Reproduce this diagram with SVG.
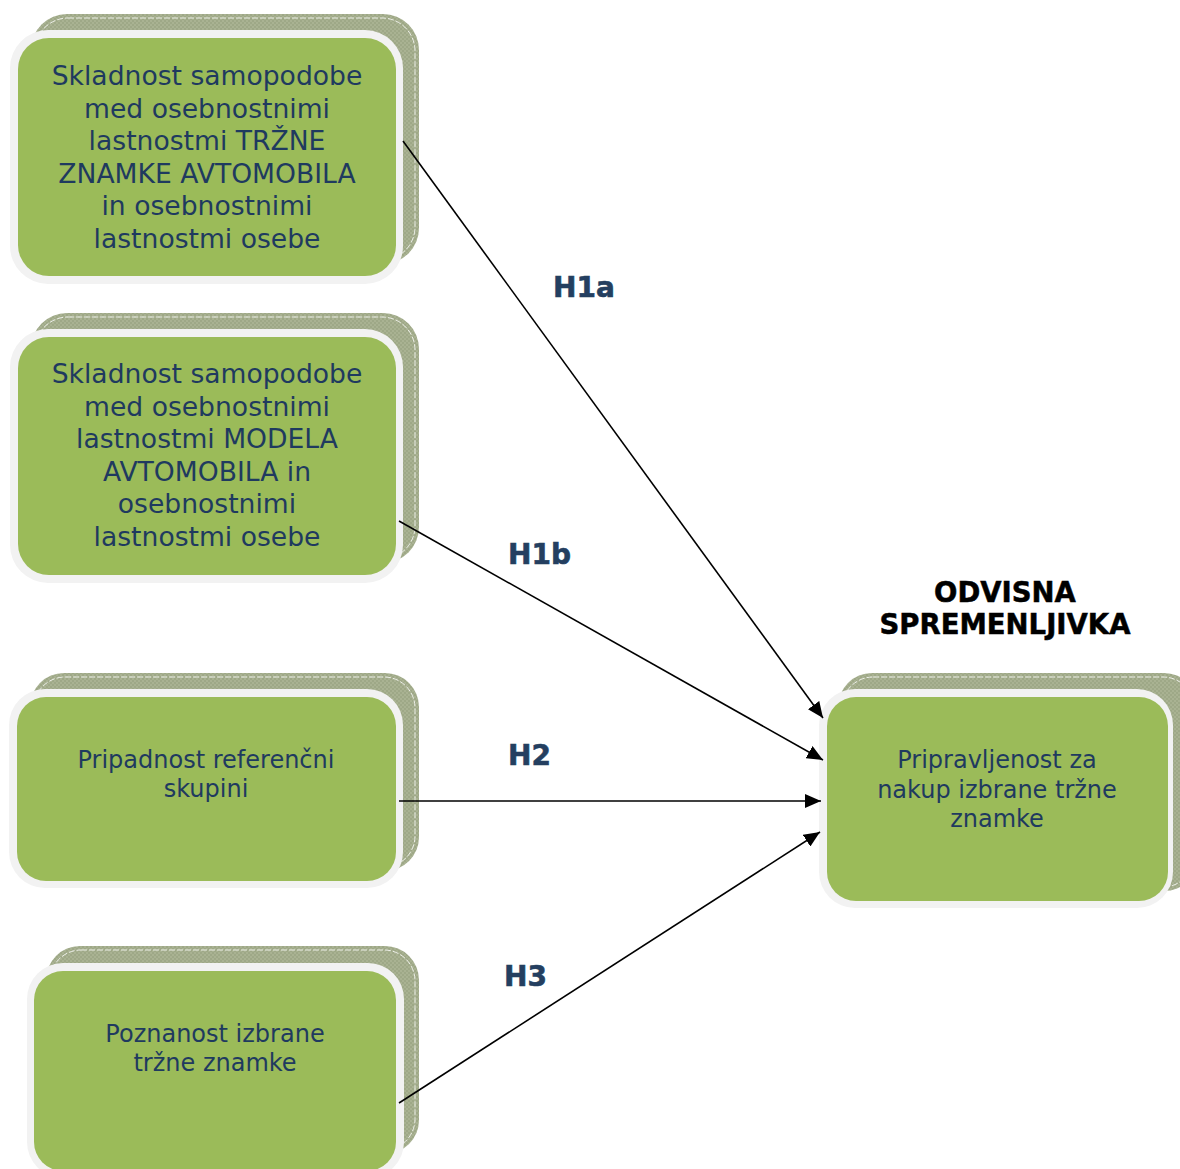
<svg xmlns="http://www.w3.org/2000/svg" width="1180" height="1169" viewBox="0 0 1180 1169">
<defs>
<pattern id="hatch" width="4" height="4" patternUnits="userSpaceOnUse">
<rect width="4" height="4" fill="#a9b292"/>
<rect width="2" height="2" fill="#9ea887"/>
<rect x="2" y="2" width="2" height="2" fill="#9ea887"/>
</pattern>
<marker id="arr" markerWidth="16" markerHeight="14" refX="16" refY="7" orient="auto" markerUnits="userSpaceOnUse">
<path d="M0,0 L16,7 L0,14 Z" fill="#000"/>
</marker>
<style>
.back{fill:url(#hatch);}
.backline{fill:none;stroke:#ffffff;stroke-width:1;stroke-dasharray:6 2;opacity:0.8;}
.outer{fill:#f2f2f2;}
.inner{fill:#9bbb59;}
.t{font-family:"DejaVu Sans",Verdana,sans-serif;fill:#1f3a5f;text-anchor:middle;}
.t1{font-size:26.6px;}
.t2{font-size:24px;}
.lbl{font-family:"DejaVu Sans",Verdana,sans-serif;font-weight:bold;font-size:28px;fill:#243f60;stroke:#243f60;stroke-width:0.6;}
.hdr{font-family:"DejaVu Sans",Verdana,sans-serif;font-weight:bold;font-size:27.5px;fill:#000;text-anchor:middle;stroke:#000;stroke-width:0.5;}
.c{fill:none;stroke:#000;stroke-width:1.6;marker-end:url(#arr);}
</style>
</defs>

<g id="node1">
<rect class="back" x="31" y="14" width="388" height="250" rx="36"/>
<rect class="backline" x="35" y="18" width="380" height="242" rx="33"/>
<rect class="outer" x="10" y="30" width="393" height="254" rx="38"/>
<rect class="inner" x="18" y="38" width="378" height="238" rx="31"/>
<text class="t t1"><tspan x="207" y="85">Skladnost samopodobe</tspan><tspan x="207" y="117.5">med osebnostnimi</tspan><tspan x="207" y="150">lastnostmi TRŽNE</tspan><tspan x="207" y="182.5">ZNAMKE AVTOMOBILA</tspan><tspan x="207" y="215">in osebnostnimi</tspan><tspan x="207" y="247.5">lastnostmi osebe</tspan></text>
</g>

<g id="node2">
<rect class="back" x="31" y="313" width="388" height="250" rx="36"/>
<rect class="backline" x="35" y="317" width="380" height="242" rx="33"/>
<rect class="outer" x="10" y="329" width="393" height="254" rx="38"/>
<rect class="inner" x="18" y="337" width="378" height="238" rx="31"/>
<text class="t t1"><tspan x="207" y="383">Skladnost samopodobe</tspan><tspan x="207" y="415.5">med osebnostnimi</tspan><tspan x="207" y="448">lastnostmi MODELA</tspan><tspan x="207" y="480.5">AVTOMOBILA in</tspan><tspan x="207" y="513">osebnostnimi</tspan><tspan x="207" y="545.5">lastnostmi osebe</tspan></text>
</g>

<g id="node3">
<rect class="back" x="30" y="673" width="389" height="198" rx="34"/>
<rect class="backline" x="34" y="677" width="381" height="190" rx="31"/>
<rect class="outer" x="9" y="689" width="394" height="199" rx="36"/>
<rect class="inner" x="17" y="697" width="379" height="184" rx="29"/>
<text class="t t2"><tspan x="206" y="768">Pripadnost referenčni</tspan><tspan x="206" y="797">skupini</tspan></text>
</g>

<g id="node4">
<rect class="back" x="46" y="946" width="373" height="208" rx="34"/>
<rect class="backline" x="50" y="950" width="365" height="200" rx="31"/>
<rect class="outer" x="27" y="963" width="377" height="215" rx="36"/>
<rect class="inner" x="34" y="971" width="362" height="200" rx="29"/>
<text class="t t2"><tspan x="215" y="1042">Poznanost izbrane</tspan><tspan x="215" y="1071">tržne znamke</tspan></text>
</g>

<g id="node5">
<rect class="back" x="838" y="673" width="360" height="218" rx="34"/>
<rect class="backline" x="842" y="677" width="352" height="210" rx="31"/>
<rect class="outer" x="819" y="689" width="354" height="219" rx="36"/>
<rect class="inner" x="827" y="697" width="341" height="204" rx="29"/>
<text class="t t2"><tspan x="997" y="768">Pripravljenost za</tspan><tspan x="997" y="797.5">nakup izbrane tržne</tspan><tspan x="997" y="827">znamke</tspan></text>
</g>

<g id="header">
<text class="hdr"><tspan x="1005" y="602">ODVISNA</tspan><tspan x="1005" y="634">SPREMENLJIVKA</tspan></text>
</g>

<g id="connectors">
<line class="c" x1="403" y1="141" x2="823" y2="718"/>
<line class="c" x1="399" y1="521" x2="823" y2="760"/>
<line class="c" x1="399" y1="801" x2="821" y2="801"/>
<line class="c" x1="399" y1="1103" x2="820" y2="832"/>
<text class="lbl" x="553" y="297">H1a</text>
<text class="lbl" x="508" y="564">H1b</text>
<text class="lbl" x="508" y="765">H2</text>
<text class="lbl" x="504" y="986">H3</text>
</g>
</svg>
